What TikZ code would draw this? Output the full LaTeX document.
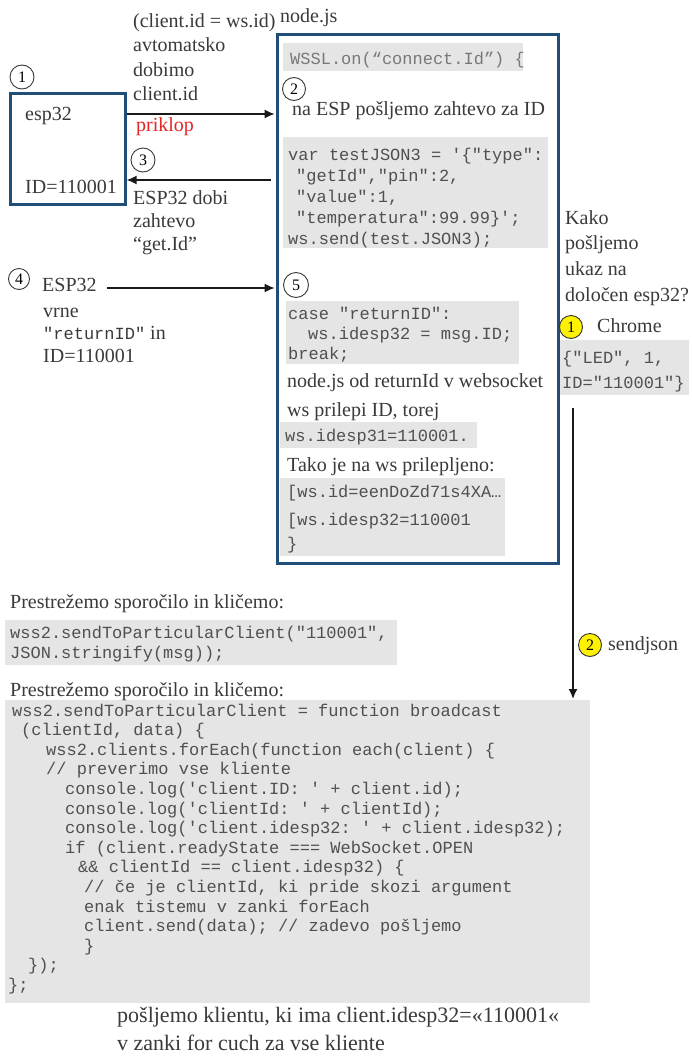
\documentclass[tikz,border=0pt]{standalone}
\usepackage{fontspec}
\setmainfont{Liberation Serif}
\setmonofont{Liberation Mono}
\usetikzlibrary{arrows.meta,calc}

\definecolor{frameblue}{RGB}{31,78,121}
\definecolor{codebg}{RGB}{229,229,229}
\definecolor{ink}{RGB}{58,58,58}
\definecolor{codeink}{RGB}{80,80,80}
\definecolor{faintink}{RGB}{120,120,120}
\definecolor{marker}{RGB}{255,242,0}
\definecolor{linkred}{RGB}{228,38,38}

\tikzset{
  txt/.style={anchor=base west, inner sep=0pt, text=ink, font=\fontsize{20}{24}\selectfont},
  bigtxt/.style={txt, font=\fontsize{22}{26}\selectfont},
  code/.style={anchor=base west, inner sep=0pt, text=codeink, font=\ttfamily\fontsize{17}{20}\selectfont},
  codebox/.style={anchor=north west, fill=codebg, draw=none, inner sep=0pt},
  frame/.style={anchor=north west, draw=frameblue, line width=2.6pt, inner sep=0pt},
  num/.style={circle, draw=ink, line width=0.9pt, minimum size=24pt, inner sep=0pt,
              text=black, font=\fontsize{16}{16}\selectfont},
  ynum/.style={num, fill=marker, draw=black!80},
  arr/.style={draw=black!90, line width=1.6pt, -{Latex[length=10pt,width=9pt]}},
}

\begin{document}
\begin{tikzpicture}[x=1pt, y=-1pt]
\path[use as bounding box, fill=white] (0,0) rectangle (691,1057);

% ---------- grey code backgrounds ----------
\node[codebox, minimum width=240, minimum height=28]  (cb1) at (283,43)  {};
\node[codebox, minimum width=265, minimum height=111] (cb2) at (283,137) {};
\node[codebox, minimum width=233, minimum height=63]  (cb3) at (286,301) {};
\node[codebox, minimum width=197, minimum height=26]  (cb4) at (280,422) {};
\node[codebox, minimum width=225, minimum height=78]  (cb5) at (280,478) {};
\node[codebox, minimum width=131, minimum height=55]  (cb6) at (558,340) {};
\node[codebox, minimum width=392, minimum height=45]  (cb7) at (5,620)   {};
\node[codebox, minimum width=585, minimum height=303] (cb8) at (5,700)   {};

% ---------- frames ----------
\node[frame, minimum width=115, minimum height=111] (esp)    at (9,92)   {};
\node[frame, minimum width=281, minimum height=529] (nodejs) at (276,33) {};

% ---------- esp32 box ----------
\node[num] (n1) at (22,77) {1};
\node[txt] (espname) at (25,120) {esp32};
\node[txt] (espid)   at (25,193) {ID=110001};

% ---------- connection labels ----------
\node[txt] (l1a) at (133,28)  {(client.id = ws.id)};
\node[txt] (l1b) at (133,52)  {avtomatsko};
\node[txt] (l1c) at (133,76)  {dobimo};
\node[txt] (l1d) at (133,100) {client.id};
\node[txt, text=linkred] (priklop) at (136,131) {priklop};
\node[num] (n3) at (143,160) {3};
\node[txt] (l3a) at (133,204) {ESP32 dobi};
\node[txt] (l3b) at (133,227) {zahtevo};
\node[txt] (l3c) at (133,250) {“get.Id”};

\node[num, minimum size=21pt] (n4) at (19,279) {4};
\node[txt] (l4a) at (42,291) {ESP32};
\node[txt] (l4b) at (43,317) {vrne};
\node[txt] (l4c) at (43,339) {{\ttfamily\fontsize{17}{20}\selectfont"returnID"} in};
\node[txt] (l4d) at (43,362) {ID=110001};

% ---------- node.js server ----------
\node[txt] (njs) at (280,23) {node.js};
\node[code, text=faintink] (c1) at (290,65) {WSSL.on(“connect.Id”) \{};
\node[num, minimum size=23pt] (n2) at (294,89) {2};
\node[txt] (l2) at (292,115) {na ESP pošljemo zahtevo za ID};
\node[code] (c2a) at (288,160) {var testJSON3 = '\{"type":};
\node[code] (c2b) at (296,181) {"getId","pin":2,};
\node[code] (c2c) at (296,202) {"value":1,};
\node[code] (c2d) at (296,223) {"temperatura":99.99\}';};
\node[code] (c2e) at (288,244) {ws.send(test.JSON3);};

\node[num, minimum size=25pt] (n5) at (296,285) {5};
\node[code] (c3a) at (288,319) {case "returnID":};
\node[code] (c3b) at (308,339) {ws.idesp32 = msg.ID;};
\node[code] (c3c) at (288,359) {break;};
\node[txt] (l5a) at (287,387) {node.js od returnId v websocket};
\node[txt] (l5b) at (287,416) {ws prilepi ID, torej};
\node[code] (c4) at (285,441) {ws.idesp31=110001.};
\node[txt] (l5c) at (287,471) {Tako je na ws prilepljeno:};
\node[code] (c5a) at (287,497) {[ws.id=eenDoZd71s4XA…};
\node[code] (c5b) at (287,525) {[ws.idesp32=110001};
\node[code] (c5c) at (287,549) {\}};

% ---------- browser side ----------
\node[txt] (k1) at (565,224) {Kako};
\node[txt] (k2) at (565,249) {pošljemo};
\node[txt] (k3) at (565,275) {ukaz na};
\node[txt] (k4) at (565,301) {določen esp32?};
\node[ynum, minimum size=23pt] (y1) at (571,327) {1};
\node[txt] (chrome) at (597,332) {Chrome};
\node[code] (c6a) at (562,363) {\{"LED", 1,};
\node[code] (c6b) at (562,388) {ID="110001"\}};
\node[ynum, minimum size=23pt] (y2) at (590,645) {2};
\node[txt] (sj) at (608,650) {sendjson};

% ---------- forwarding code ----------
\node[txt] (p1) at (10,608) {Prestrežemo sporočilo in kličemo:};
\node[code] (c7a) at (10,638) {wss2.sendToParticularClient("110001",};
\node[code] (c7b) at (10,658) {JSON.stringify(msg));};
\node[txt] (p2) at (10,696) {Prestrežemo sporočilo in kličemo:};

\node[code] (d1)  at (12,716)    {wss2.sendToParticularClient = function broadcast};
\node[code] (d2)  at (21,735.6)  {(clientId, data) \{};
\node[code] (d3)  at (46,755.2)  {wss2.clients.forEach(function each(client) \{};
\node[code] (d4)  at (46,774.8)  {// preverimo vse kliente};
\node[code] (d5)  at (65,794.4)  {console.log('client.ID: ' + client.id);};
\node[code] (d6)  at (65,814)    {console.log('clientId: ' + clientId);};
\node[code] (d7)  at (65,833.6)  {console.log('client.idesp32: ' + client.idesp32);};
\node[code] (d8)  at (65,853.2)  {if (client.readyState === WebSocket.OPEN};
\node[code] (d9)  at (78,872.8)  {\&\& clientId == client.idesp32) \{};
\node[code] (d10) at (84,892.4)  {// če je clientId, ki pride skozi argument};
\node[code] (d11) at (84,912)    {enak tistemu v zanki forEach};
\node[code] (d12) at (84,931.6)  {client.send(data); // zadevo pošljemo};
\node[code] (d13) at (84,951.2)  {\}};
\node[code] (d14) at (28,970.8)  {\});};
\node[code] (d15) at (8,990.4)   {\};};

\node[bigtxt] (f1) at (117,1022) {pošljemo klientu, ki ima client.idesp32=«110001«};
\node[bigtxt] (f2) at (117,1050) {v zanki for cuch za vse kliente};

% ---------- connectors ----------
\draw[arr, shorten >=1.3pt] (esp.east |- 0,114) -- (nodejs.west |- 0,114);
\draw[arr, shorten <=5pt]   (nodejs.west |- 0,180) -- (esp.east |- 0,180);
\coordinate (a4) at (107,288);
\draw[arr, shorten >=1.3pt] (a4) -- (nodejs.west |- a4);
\coordinate (av) at (573,408);
\draw[arr, shorten >=1pt] (av) -- (cb8.north -| av);
\end{tikzpicture}
\end{document}
